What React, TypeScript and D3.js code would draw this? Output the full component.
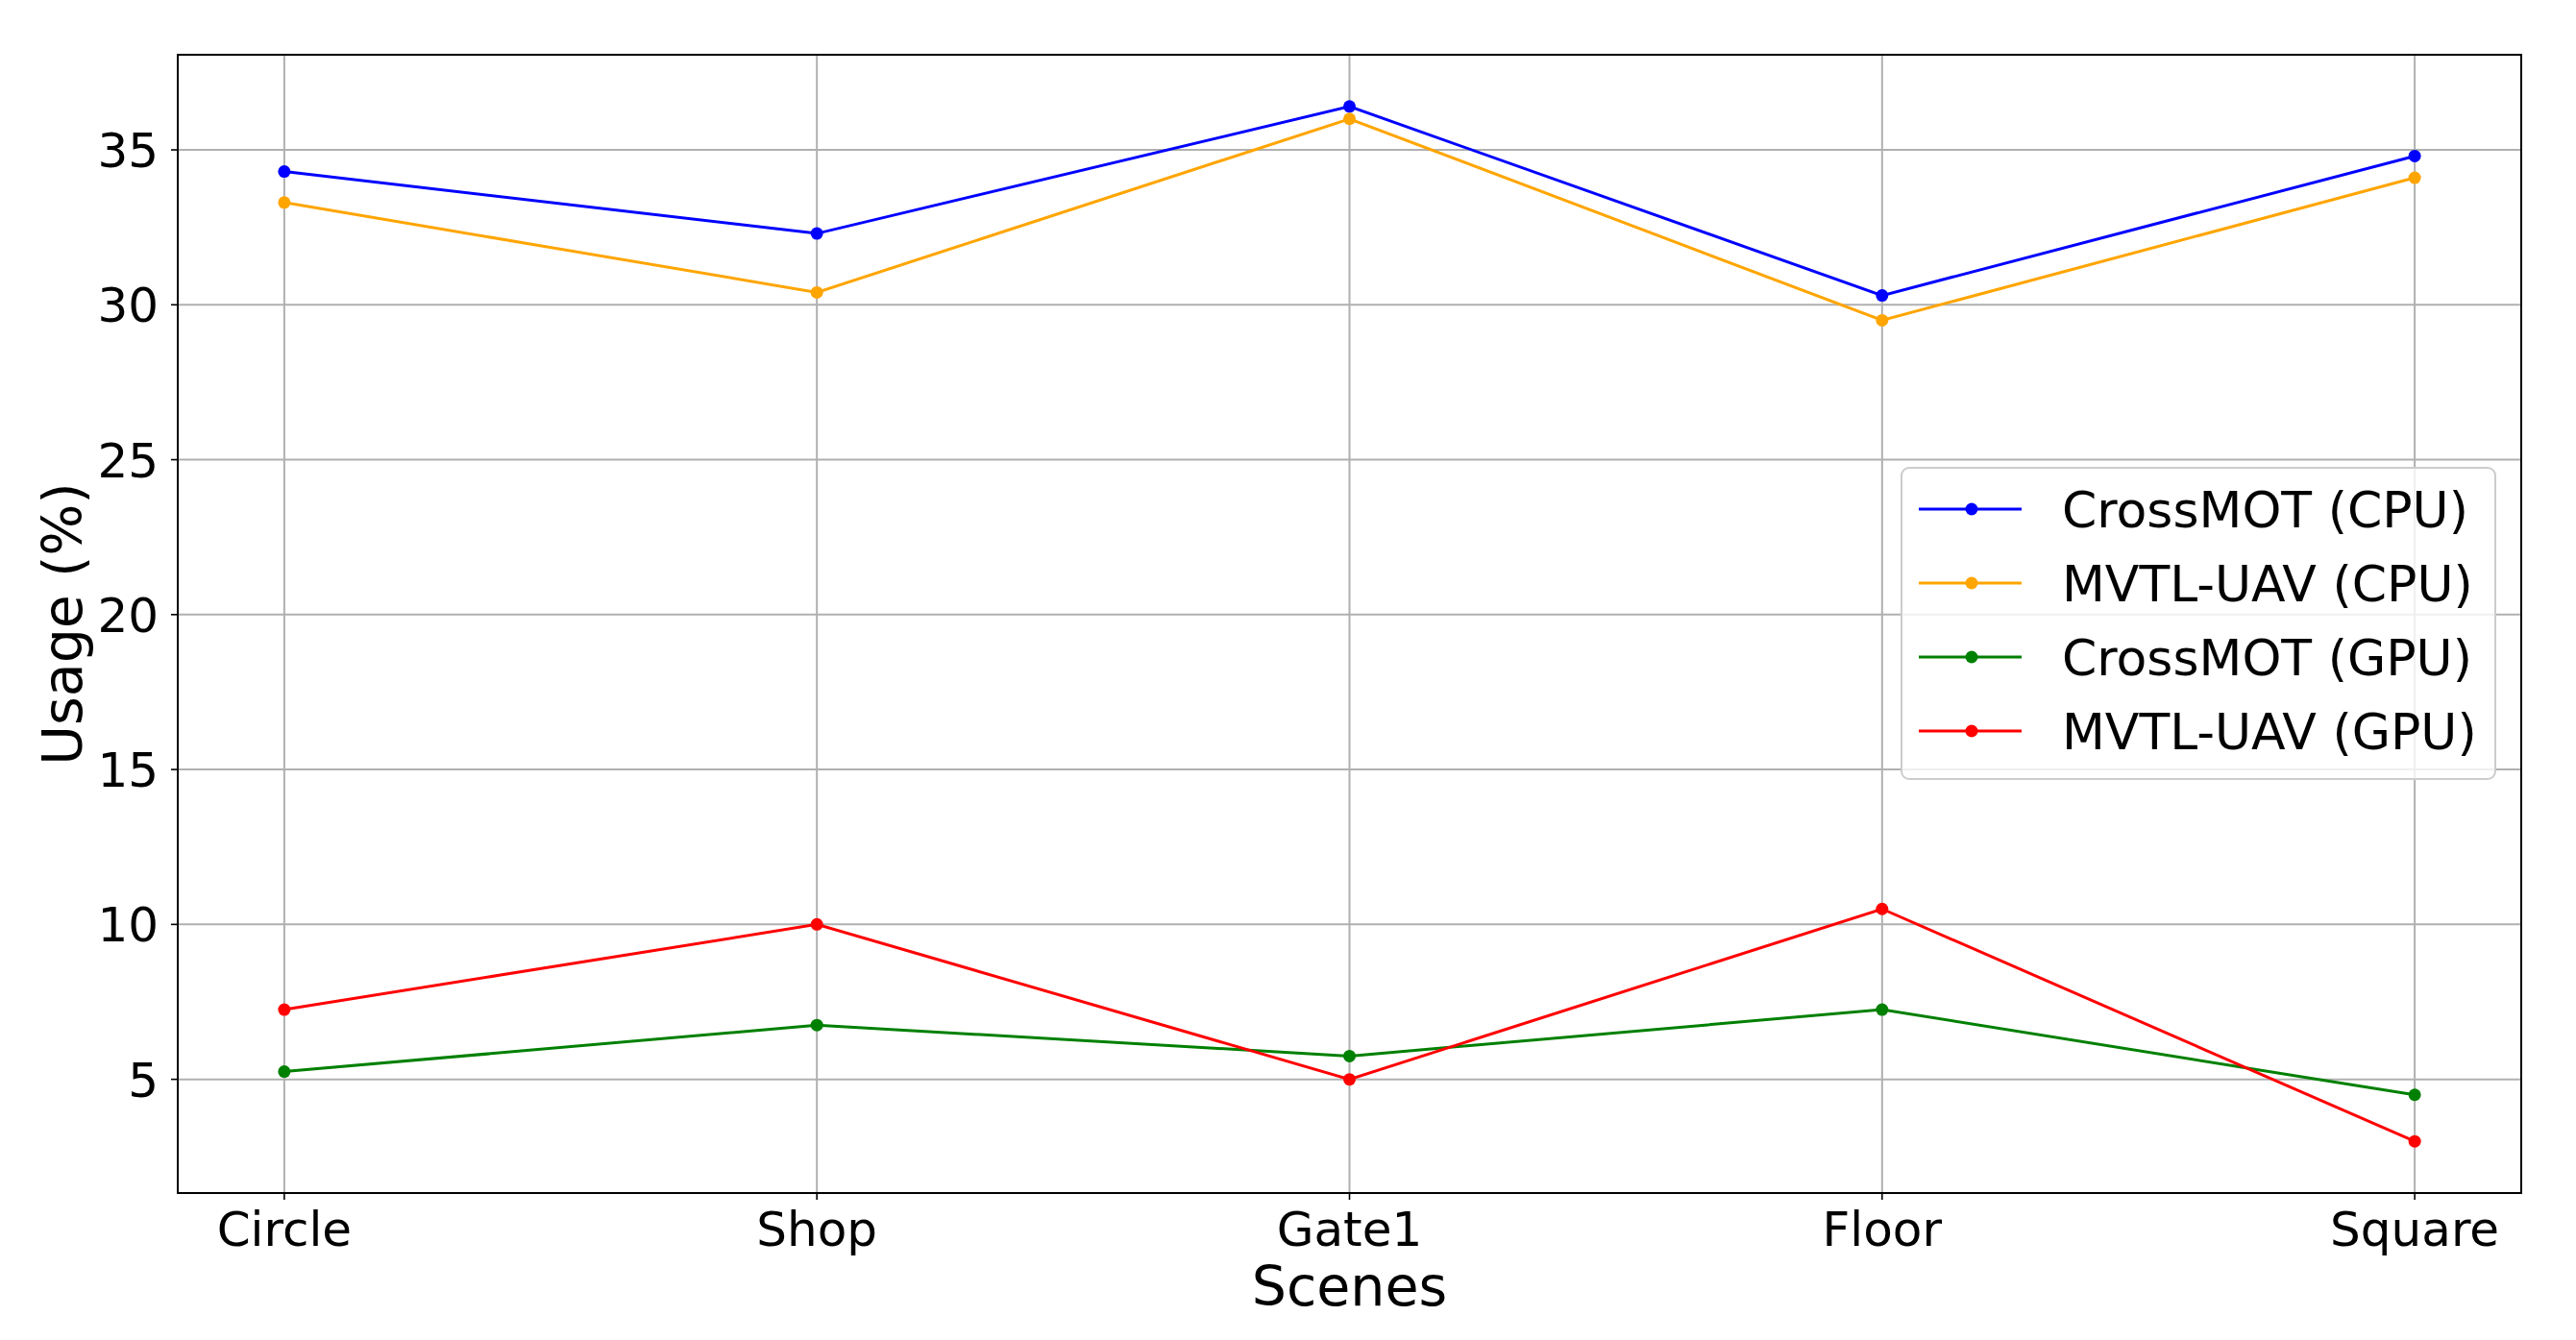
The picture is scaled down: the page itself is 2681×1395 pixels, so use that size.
import React, { useEffect, useRef } from "react";
import * as d3 from "d3";

const scenes = ["Circle", "Shop", "Gate1", "Floor", "Square"];
const crossmotCpu = [34.3, 32.3, 36.4, 30.3, 34.8];
const mvtlCpu = [33.3, 30.4, 36.0, 29.5, 34.1];
const crossmotGpu = [5.25, 6.75, 5.75, 7.25, 4.5];
const mvtlGpu = [7.25, 10.0, 5.0, 10.5, 3.0];
const yTicks = [5, 10, 15, 20, 25, 30, 35];

const seriesNames = ["CrossMOT (CPU)", "MVTL-UAV (CPU)", "CrossMOT (GPU)", "MVTL-UAV (GPU)"];
const seriesColors = ["blue", "orange", "green", "red"];

const App: React.FC = () => {
    const ref = useRef<HTMLDivElement>(null);

    useEffect(() => {
        if (!ref.current) return;

        const width = 2681;
        const height = 1395;
        const margin = { top: 57, right: 57, bottom: 153, left: 185 };
        const font = "'DejaVu Sans', sans-serif";

        const series = [crossmotCpu, mvtlCpu, crossmotGpu, mvtlGpu];

        const svg = d3
            .select(ref.current)
            .append("svg")
            .attr("width", width)
            .attr("height", height)
            .style("display", "block")
            .style("background", "white");

        // matplotlib style auto margins (5% each side)
        const all = series.flat();
        const lo = d3.min(all)!;
        const hi = d3.max(all)!;
        const pad = (hi - lo) * 0.05;

        const x = d3
            .scaleLinear()
            .domain([-0.2, scenes.length - 1 + 0.2])
            .range([margin.left, width - margin.right]);

        const y = d3
            .scaleLinear()
            .domain([lo - pad, hi + pad])
            .range([height - margin.bottom, margin.top]);

        const x0 = margin.left;
        const x1 = width - margin.right;
        const y0 = height - margin.bottom;
        const y1 = margin.top;

        // grid
        const grid = svg.append("g").attr("stroke", "#b0b0b0").attr("stroke-width", 2);
        grid.selectAll("line.h")
            .data(yTicks)
            .enter()
            .append("line")
            .attr("x1", x0)
            .attr("x2", x1)
            .attr("y1", (d) => y(d))
            .attr("y2", (d) => y(d));
        grid.selectAll("line.v")
            .data(scenes)
            .enter()
            .append("line")
            .attr("x1", (_, i) => x(i))
            .attr("x2", (_, i) => x(i))
            .attr("y1", y0)
            .attr("y2", y1);

        // lines + markers
        const line = d3
            .line<number>()
            .x((_, i) => x(i))
            .y((d) => y(d));

        series.forEach((vals, k) => {
            svg.append("path")
                .datum(vals)
                .attr("d", line)
                .attr("fill", "none")
                .attr("stroke", seriesColors[k])
                .attr("stroke-width", 3);
            svg.append("g")
                .selectAll("circle")
                .data(vals)
                .enter()
                .append("circle")
                .attr("cx", (_, i) => x(i))
                .attr("cy", (d) => y(d))
                .attr("r", 6.5)
                .attr("fill", seriesColors[k]);
        });

        // frame
        svg.append("rect")
            .attr("x", x0)
            .attr("y", y1)
            .attr("width", x1 - x0)
            .attr("height", y0 - y1)
            .attr("fill", "none")
            .attr("stroke", "black")
            .attr("stroke-width", 2);

        // y ticks
        const yAxis = svg.append("g");
        yTicks.forEach((t) => {
            yAxis.append("line")
                .attr("x1", x0 - 7)
                .attr("x2", x0)
                .attr("y1", y(t))
                .attr("y2", y(t))
                .attr("stroke", "black")
                .attr("stroke-width", 1.6);
            yAxis.append("text")
                .attr("x", x0 - 20)
                .attr("y", y(t))
                .attr("dy", "0.36em")
                .attr("text-anchor", "end")
                .style("font-family", font)
                .style("font-size", "50px")
                .text(t);
        });

        // x ticks
        const xAxis = svg.append("g");
        scenes.forEach((s, i) => {
            xAxis.append("line")
                .attr("x1", x(i))
                .attr("x2", x(i))
                .attr("y1", y0)
                .attr("y2", y0 + 7)
                .attr("stroke", "black")
                .attr("stroke-width", 1.6);
            xAxis.append("text")
                .attr("x", x(i))
                .attr("y", y0 + 55)
                .attr("text-anchor", "middle")
                .style("font-family", font)
                .style("font-size", "50px")
                .text(s);
        });

        // axis titles
        svg.append("text")
            .attr("x", (x0 + x1) / 2)
            .attr("y", 1359)
            .attr("text-anchor", "middle")
            .style("font-family", font)
            .style("font-size", "57px")
            .text("Scenes");

        svg.append("text")
            .attr("transform", `translate(85,${(y0 + y1) / 2}) rotate(-90)`)
            .attr("text-anchor", "middle")
            .style("font-family", font)
            .style("font-size", "57px")
            .text("Usage (%)");

        // legend
        const lg = svg.append("g").attr("transform", "translate(1979,487)");
        lg.append("rect")
            .attr("width", 618)
            .attr("height", 324)
            .attr("rx", 8)
            .attr("fill", "white")
            .attr("fill-opacity", 0.8)
            .attr("stroke", "#cccccc")
            .attr("stroke-width", 2);
        seriesNames.forEach((name, k) => {
            const ry = 43 + k * 77;
            lg.append("line")
                .attr("x1", 18)
                .attr("x2", 125)
                .attr("y1", ry)
                .attr("y2", ry)
                .attr("stroke", seriesColors[k])
                .attr("stroke-width", 3);
            lg.append("circle")
                .attr("cx", 73)
                .attr("cy", ry)
                .attr("r", 6.5)
                .attr("fill", seriesColors[k]);
            lg.append("text")
                .attr("x", 167)
                .attr("y", ry)
                .attr("dy", "0.36em")
                .style("font-family", font)
                .style("font-size", "52px")
                .text(name);
        });

        return () => {
            d3.select(ref.current).select("svg").remove();
        };
    }, []);

    return <div ref={ref} style={{ position: "absolute", left: 0, top: 0 }}></div>;
};

export default App;
